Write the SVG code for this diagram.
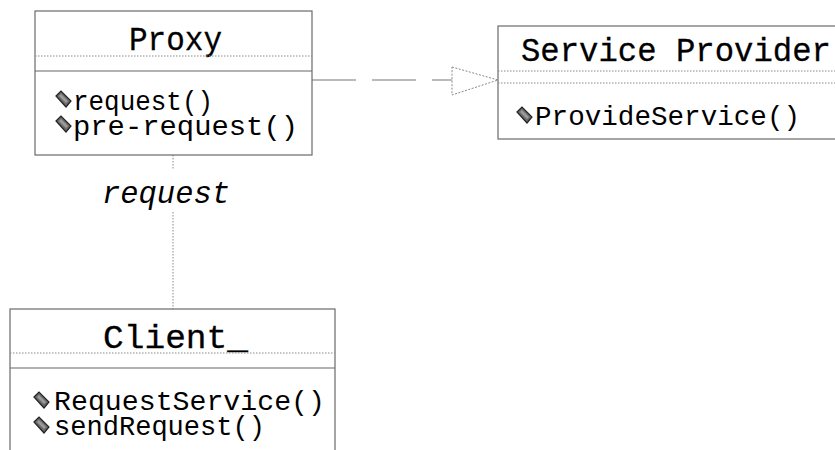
<svg xmlns="http://www.w3.org/2000/svg" width="835" height="450" viewBox="0 0 835 450">
<style>
.box{fill:#fff;stroke:#6a6a6a;stroke-width:1.2}
.dot{stroke:#8a8a8a;stroke-width:1;stroke-dasharray:1.5 1.5;fill:none}
.sol{stroke:#666;stroke-width:1.2;fill:none}
.title{font-family:"Liberation Mono","Courier New",monospace;font-size:33px;fill:#000;stroke:#000;stroke-width:0.3}
.mem{font-family:"Liberation Mono","Courier New",monospace;font-size:28px;fill:#000}
.lbl{font-family:"Liberation Mono","Courier New",monospace;font-size:32px;font-style:italic;fill:#000}
.conn{stroke:#777;stroke-width:1.2;fill:none}
</style>
<defs>
<g id="gem">
<polygon points="0,5 5,0 15,10 10,16" fill="#6a6a6a" stroke="#222" stroke-width="1.2"/>
<polygon points="3,5 5,3 12,10 10,12" fill="#9a9a9a"/>
</g>
</defs>
<rect width="835" height="450" fill="#fff"/>
<g id="connectors">
<line class="conn" x1="312" y1="80" x2="452" y2="80" stroke-dasharray="44 16"/>
<polygon points="452,67 498,80 452,95" fill="none" stroke="#8a8a8a" stroke-width="1" stroke-dasharray="2 1.5"/>
<line class="dot" x1="173" y1="155" x2="173" y2="170"/>
<line class="dot" x1="173" y1="212" x2="173" y2="309"/>
<text class="lbl" x="102" y="203" textLength="128" lengthAdjust="spacingAndGlyphs">request</text>
</g>
<g id="proxy">
<rect class="box" x="35" y="11" width="277" height="144"/>
<text class="title" x="129" y="50" textLength="93" lengthAdjust="spacingAndGlyphs">Proxy</text>
<line class="dot" x1="35" y1="56" x2="312" y2="56"/>
<line class="sol" x1="35" y1="71" x2="312" y2="71"/>
<use href="#gem" x="56" y="91"/>
<text class="mem" x="73" y="110" textLength="140" lengthAdjust="spacingAndGlyphs">request()</text>
<use href="#gem" x="56" y="116"/>
<text class="mem" x="73" y="135" textLength="225" lengthAdjust="spacingAndGlyphs">pre-request()</text>
</g>
<g id="service-provider">
<rect class="box" x="498" y="26" width="345" height="113"/>
<text class="title" x="521" y="61" textLength="310" lengthAdjust="spacingAndGlyphs">Service Provider</text>
<line class="dot" x1="498" y1="71" x2="835" y2="71"/>
<line class="dot" x1="498" y1="83" x2="835" y2="83"/>
<use href="#gem" x="517" y="107"/>
<text class="mem" x="535" y="125" textLength="265" lengthAdjust="spacingAndGlyphs">ProvideService()</text>
</g>
<g id="client">
<rect class="box" x="10" y="309" width="325" height="170"/>
<text class="title" x="103" y="348" textLength="145" lengthAdjust="spacingAndGlyphs">Client_</text>
<line class="dot" x1="10" y1="353" x2="335" y2="353"/>
<line class="sol" x1="10" y1="368" x2="335" y2="368"/>
<use href="#gem" x="34" y="392"/>
<text class="mem" x="54" y="410" textLength="271" lengthAdjust="spacingAndGlyphs">RequestService()</text>
<use href="#gem" x="34" y="417"/>
<text class="mem" x="54" y="435" textLength="211" lengthAdjust="spacingAndGlyphs">sendRequest()</text>
</g>
</svg>
